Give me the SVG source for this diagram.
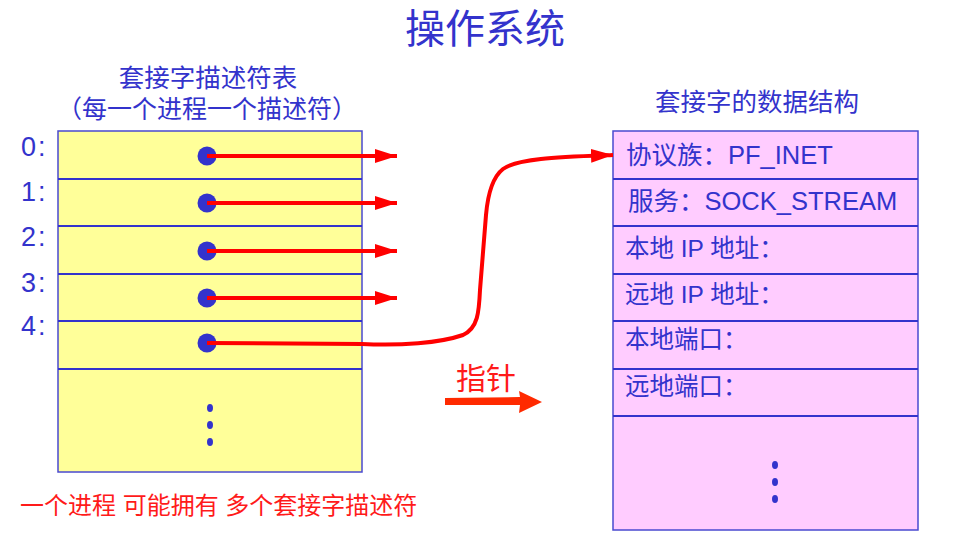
<svg xmlns="http://www.w3.org/2000/svg" width="958" height="558" viewBox="0 0 958 558">
<defs>
<style>
.t{font-family:"Liberation Sans","Noto Sans CJK SC",sans-serif;fill:#3333cc}
.r{font-family:"Liberation Sans","Noto Sans CJK SC",sans-serif;fill:#ff1a1a}
.box{stroke:#4a4ad0;stroke-width:1.5}
.row{stroke:#3333cc;stroke-width:2.2}
.ptr{stroke:#ff0000;stroke-width:4;fill:none}
.dot{fill:#3333cc}
</style>
<marker id="ah" markerUnits="userSpaceOnUse" markerWidth="22" markerHeight="14" refX="22" refY="7" orient="auto">
<path d="M0,0 L22,7 L0,14 Z" fill="#ff0000"/>
</marker>
</defs>
<text class="t" x="485" y="43" font-size="40" text-anchor="middle">操作系统</text>
<g id="fdtable">
<text class="t" x="208" y="87" font-size="25.5" text-anchor="middle">套接字描述符表</text>
<text class="t" x="207" y="118" font-size="25" text-anchor="middle">（每一个进程一个描述符）</text>
<rect class="box" x="58" y="131" width="304" height="341" fill="#ffff99"/>
<g class="row">
<line x1="58" y1="179" x2="362" y2="179"/>
<line x1="58" y1="226" x2="362" y2="226"/>
<line x1="58" y1="274" x2="362" y2="274"/>
<line x1="58" y1="321" x2="362" y2="321"/>
<line x1="58" y1="369" x2="362" y2="369"/>
</g>
<g font-size="27">
<text class="t" x="21" y="156" letter-spacing="2">0:</text>
<text class="t" x="21" y="201" letter-spacing="2">1:</text>
<text class="t" x="21" y="246" letter-spacing="2">2:</text>
<text class="t" x="21" y="292" letter-spacing="2">3:</text>
<text class="t" x="21" y="335" letter-spacing="2">4:</text>
</g>
<circle class="dot" cx="207" cy="156" r="9.5"/>
<circle class="dot" cx="207" cy="203" r="9.5"/>
<circle class="dot" cx="207" cy="251" r="9.5"/>
<circle class="dot" cx="207" cy="298" r="9.5"/>
<circle class="dot" cx="207" cy="343" r="9.5"/>
<ellipse class="dot" cx="210" cy="408" rx="3" ry="4"/>
<ellipse class="dot" cx="210" cy="425" rx="3" ry="4"/>
<ellipse class="dot" cx="210" cy="442" rx="3" ry="4"/>
</g>
<g id="sockstruct">
<text class="t" x="757" y="111" font-size="25.5" text-anchor="middle">套接字的数据结构</text>
<rect class="box" x="613" y="131" width="305" height="399" fill="#ffccff"/>
<g class="row">
<line x1="613" y1="179" x2="918" y2="179"/>
<line x1="613" y1="226" x2="918" y2="226"/>
<line x1="613" y1="274" x2="918" y2="274"/>
<line x1="613" y1="321" x2="918" y2="321"/>
<line x1="613" y1="369" x2="918" y2="369"/>
<line x1="613" y1="416" x2="918" y2="416"/>
</g>
<text class="t" x="626" y="164" font-size="25.5">协议族：PF_INET</text>
<text class="t" x="628" y="210" font-size="25.5">服务：SOCK_STREAM</text>
<text class="t" x="625" y="257" font-size="24.5">本地 IP 地址：</text>
<text class="t" x="625" y="303" font-size="24.5">远地 IP 地址：</text>
<text class="t" x="625" y="348" font-size="24.5">本地端口：</text>
<text class="t" x="625" y="395" font-size="24.5">远地端口：</text>
<ellipse class="dot" cx="775" cy="465" rx="3" ry="4"/>
<ellipse class="dot" cx="775" cy="482" rx="3" ry="4"/>
<ellipse class="dot" cx="775" cy="499" rx="3" ry="4"/>
</g>
<g id="connectors">
<line class="ptr" x1="207" y1="156" x2="397" y2="156" marker-end="url(#ah)"/>
<line class="ptr" x1="207" y1="203" x2="397" y2="203" marker-end="url(#ah)"/>
<line class="ptr" x1="207" y1="251" x2="397" y2="251" marker-end="url(#ah)"/>
<line class="ptr" x1="207" y1="298" x2="397" y2="298" marker-end="url(#ah)"/>
<path class="ptr" d="M207,343 L362,344 C400,346 440,343 463,335 C478,328 479,312 480,290 L486,215 C488,192 494,176 503,169 C518,158 560,157 613,155" marker-end="url(#ah)"/>
</g>
<g id="legend">
<text class="r" x="456" y="389" font-size="30">指针</text>
<polygon points="445,398 520,397 519,391 542,402 519,413 520,405 445,405" fill="#ff2a00"/>
<text class="r" x="20" y="514" font-size="24">一个进程 可能拥有 多个套接字描述符</text>
</g>
</svg>
